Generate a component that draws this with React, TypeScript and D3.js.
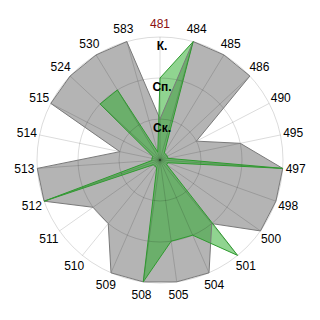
import React from "react";
import * as d3 from "d3";

const categories = ["481","484","485","486","490","495","497","498","500","501","504","505","508","509","510","511","512","513","514","515","524","530","583"];
const grayValues = [1,3,3,3,1,2,3,3,3,2,3,3,3,3,2,2,3,3,1,3,3,3,3];
const greenValues = [2,3,0.2,0.2,0.2,0.2,3,0.2,0.2,3,2,2,3,0.2,0.2,0.2,3,0.2,0.2,0.2,2,2,0.2];
const levelLabels = ["Ск.","Сп.","К."];
const levels = [1,2,3];

const W = 320, H = 320;
const cx = 160, cy = 160, R = 123;

export default function App() {
  const n = categories.length;
  const angle = d3.scaleLinear().domain([0, n]).range([0, 2 * Math.PI]);
  const r = d3.scaleLinear().domain([0, 3]).range([0, R]);

  const line = d3.lineRadial<number>()
    .angle((_, i) => angle(i))
    .radius((d) => r(d))
    .curve(d3.curveLinearClosed);

  const pt = (a: number, rad: number) => [Math.sin(a) * rad, -Math.cos(a) * rad];

  return (
    <svg width={W} height={H} style={{ position: "absolute", left: 0, top: 0, background: "#fff" }}
      fontFamily="'Liberation Sans', Arial, sans-serif">
      <g transform={`translate(${cx},${cy})`}>
        <path d={line(grayValues) || ""} fill="#b4b4b4" stroke="none" />
        <path d={line(greenValues) || ""} fill="rgb(34,170,34)" fillOpacity={0.5} stroke="none" />
        {levels.map((l) => (
          <circle key={l} r={r(l)} fill="none" stroke="rgba(0,0,0,0.14)" strokeWidth={1} />
        ))}
        {categories.map((c, i) => {
          const [x, y] = pt(angle(i), R);
          return <line key={c} x1={0} y1={0} x2={x} y2={y} stroke="rgba(0,0,0,0.14)" strokeWidth={1} />;
        })}
        <path d={line(grayValues) || ""} fill="none" stroke="#7a7a7a" strokeWidth={1} />
        <path d={line(greenValues) || ""} fill="none" stroke="#2f9a2f" strokeWidth={1} />
        {levels.map((l, i) => (
          <text key={l} x={2} y={-r(l) + 13} textAnchor="middle" fontSize={12} fontWeight="bold" fill="#000">
            {levelLabels[i]}
          </text>
        ))}
        {categories.map((c, i) => {
          const [x, y] = pt(angle(i), 136);
          return (
            <text key={c} x={x} y={y} dy="0.35em" textAnchor="middle" fontSize={12}
              fill={i === 0 ? "#8b1010" : "#000"}>
              {c}
            </text>
          );
        })}
      </g>
    </svg>
  );
}
